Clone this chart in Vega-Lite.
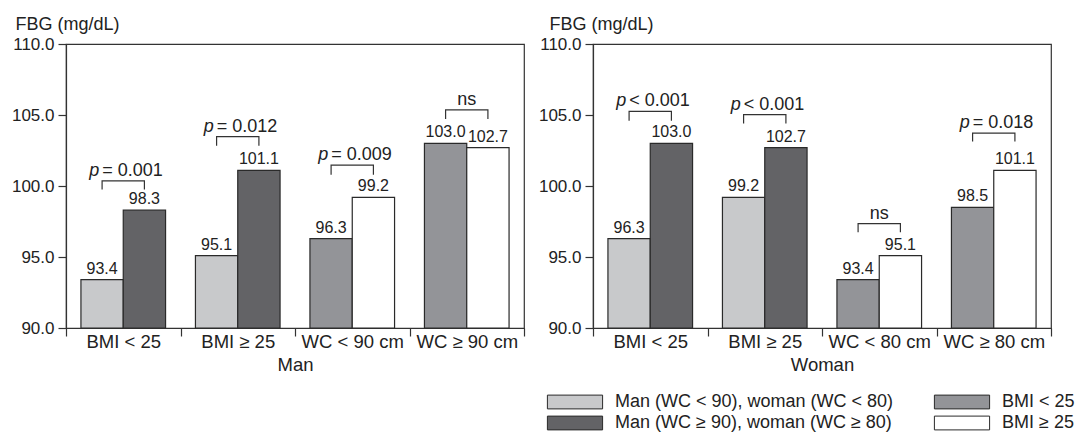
{
  "$schema": "https://vega.github.io/schema/vega-lite/v6.json",
  "padding": {"left": 10, "top": 14, "right": 5, "bottom": 0},
  "config": {
    "font": "Liberation Sans",
    "view": {"stroke": "#333", "strokeWidth": 1.2},
    "axis": {"domainColor": "#333", "domainWidth": 1.2, "tickColor": "#333", "tickWidth": 1.2, "labelColor": "#222", "titleColor": "#222", "labelFontSize": 17, "titleFontSize": 18.5, "titleFontWeight": "normal", "grid": false}
  },
  "datasets": {
    "manBars": [
      {"group": "BMI < 25", "pos": "a", "cat": "Man (WC < 90), woman (WC < 80)", "value": 93.4},
      {"group": "BMI < 25", "pos": "b", "cat": "Man (WC ≥ 90), woman (WC ≥ 80)", "value": 98.3},
      {"group": "BMI ≥ 25", "pos": "a", "cat": "Man (WC < 90), woman (WC < 80)", "value": 95.1},
      {"group": "BMI ≥ 25", "pos": "b", "cat": "Man (WC ≥ 90), woman (WC ≥ 80)", "value": 101.1},
      {"group": "WC < 90 cm", "pos": "a", "cat": "BMI < 25", "value": 96.3},
      {"group": "WC < 90 cm", "pos": "b", "cat": "BMI ≥ 25", "value": 99.2},
      {"group": "WC ≥ 90 cm", "pos": "a", "cat": "BMI < 25", "value": 103.0},
      {"group": "WC ≥ 90 cm", "pos": "b", "cat": "BMI ≥ 25", "value": 102.7}
    ],
    "womanBars": [
      {"group": "BMI < 25", "pos": "a", "cat": "Man (WC < 90), woman (WC < 80)", "value": 96.3},
      {"group": "BMI < 25", "pos": "b", "cat": "Man (WC ≥ 90), woman (WC ≥ 80)", "value": 103.0},
      {"group": "BMI ≥ 25", "pos": "a", "cat": "Man (WC < 90), woman (WC < 80)", "value": 99.2},
      {"group": "BMI ≥ 25", "pos": "b", "cat": "Man (WC ≥ 90), woman (WC ≥ 80)", "value": 102.7},
      {"group": "WC < 80 cm", "pos": "a", "cat": "BMI < 25", "value": 93.4},
      {"group": "WC < 80 cm", "pos": "b", "cat": "BMI ≥ 25", "value": 95.1},
      {"group": "WC ≥ 80 cm", "pos": "a", "cat": "BMI < 25", "value": 98.5},
      {"group": "WC ≥ 80 cm", "pos": "b", "cat": "BMI ≥ 25", "value": 101.1}
    ],
    "manBrackets": [
      {"group": "BMI < 25", "pos": "a", "y": 99.76, "ord": 1},
      {"group": "BMI < 25", "pos": "a", "y": 100.36, "ord": 2},
      {"group": "BMI < 25", "pos": "b", "y": 100.36, "ord": 3},
      {"group": "BMI < 25", "pos": "b", "y": 99.76, "ord": 4},
      {"group": "BMI ≥ 25", "pos": "a", "y": 102.84, "ord": 1},
      {"group": "BMI ≥ 25", "pos": "a", "y": 103.48, "ord": 2},
      {"group": "BMI ≥ 25", "pos": "b", "y": 103.48, "ord": 3},
      {"group": "BMI ≥ 25", "pos": "b", "y": 102.84, "ord": 4},
      {"group": "WC < 90 cm", "pos": "a", "y": 100.8, "ord": 1},
      {"group": "WC < 90 cm", "pos": "a", "y": 101.47, "ord": 2},
      {"group": "WC < 90 cm", "pos": "b", "y": 101.47, "ord": 3},
      {"group": "WC < 90 cm", "pos": "b", "y": 100.8, "ord": 4},
      {"group": "WC ≥ 90 cm", "pos": "a", "y": 104.72, "ord": 1},
      {"group": "WC ≥ 90 cm", "pos": "a", "y": 105.36, "ord": 2},
      {"group": "WC ≥ 90 cm", "pos": "b", "y": 105.36, "ord": 3},
      {"group": "WC ≥ 90 cm", "pos": "b", "y": 104.72, "ord": 4}
    ],
    "womanBrackets": [
      {"group": "BMI < 25", "pos": "a", "y": 104.6, "ord": 1},
      {"group": "BMI < 25", "pos": "a", "y": 105.26, "ord": 2},
      {"group": "BMI < 25", "pos": "b", "y": 105.26, "ord": 3},
      {"group": "BMI < 25", "pos": "b", "y": 104.6, "ord": 4},
      {"group": "BMI ≥ 25", "pos": "a", "y": 104.4, "ord": 1},
      {"group": "BMI ≥ 25", "pos": "a", "y": 105.02, "ord": 2},
      {"group": "BMI ≥ 25", "pos": "b", "y": 105.02, "ord": 3},
      {"group": "BMI ≥ 25", "pos": "b", "y": 104.4, "ord": 4},
      {"group": "WC < 80 cm", "pos": "a", "y": 96.74, "ord": 1},
      {"group": "WC < 80 cm", "pos": "a", "y": 97.35, "ord": 2},
      {"group": "WC < 80 cm", "pos": "b", "y": 97.35, "ord": 3},
      {"group": "WC < 80 cm", "pos": "b", "y": 96.74, "ord": 4},
      {"group": "WC ≥ 80 cm", "pos": "a", "y": 103.13, "ord": 1},
      {"group": "WC ≥ 80 cm", "pos": "a", "y": 103.72, "ord": 2},
      {"group": "WC ≥ 80 cm", "pos": "b", "y": 103.72, "ord": 3},
      {"group": "WC ≥ 80 cm", "pos": "b", "y": 103.13, "ord": 4}
    ],
    "manP": [
      {"group": "BMI < 25", "p": "p", "rest": "= 0.001", "y": 100.71},
      {"group": "BMI ≥ 25", "p": "p", "rest": "= 0.012", "y": 103.83},
      {"group": "WC < 90 cm", "p": "p", "rest": "= 0.009", "y": 101.82},
      {"group": "WC ≥ 90 cm", "p": "", "rest": "ns", "y": 105.71}
    ],
    "womanP": [
      {"group": "BMI < 25", "p": "p", "rest": "< 0.001", "y": 105.61},
      {"group": "BMI ≥ 25", "p": "p", "rest": "< 0.001", "y": 105.37},
      {"group": "WC < 80 cm", "p": "", "rest": "ns", "y": 97.7},
      {"group": "WC ≥ 80 cm", "p": "p", "rest": "= 0.018", "y": 104.07}
    ]
  },
  "hconcat": [
    {
      "width": 458,
      "height": 284,
      "encoding": {
        "x": {"field": "group", "type": "nominal", "sort": ["BMI < 25", "BMI ≥ 25", "WC < 90 cm", "WC ≥ 90 cm"], "scale": {"paddingInner": 0, "paddingOuter": 0}, "axis": {"title": "Man", "labelAngle": 0, "tickBand": "extent", "tickSize": 8, "labelFontSize": 18.5, "labelPadding": -4, "titlePadding": 5}},
        "y": {"type": "quantitative", "scale": {"domain": [90, 110], "zero": false, "nice": false}, "axis": {"title": "FBG (mg/dL)", "titleFontSize": 18, "values": [90, 95, 100, 105, 110], "format": ".1f", "tickSize": 8, "labelPadding": 4, "titleAngle": 0, "titleAlign": "left", "titleBaseline": "alphabetic", "titleX": -51, "titleY": -15}}
      },
      "layer": [
        {
          "data": {"name": "manBars"},
          "mark": {"type": "bar", "stroke": "#2a2a2a", "strokeWidth": 1.2, "opacity": 1},
          "encoding": {
            "xOffset": {"field": "pos", "type": "nominal", "scale": {"paddingInner": 0, "paddingOuter": 0.353}},
            "y": {"field": "value", "type": "quantitative"},
            "y2": {"datum": 90},
            "color": {"field": "cat", "type": "nominal", "scale": {"domain": ["Man (WC < 90), woman (WC < 80)", "BMI < 25", "Man (WC ≥ 90), woman (WC ≥ 80)", "BMI ≥ 25"], "range": ["#c8c9cb", "#939498", "#636366", "#ffffff"]},
              "legend": {"orient": "none", "legendX": 497, "legendY": 346, "columns": 2, "direction": "horizontal", "title": null, "symbolType": "M-2.4,-0.6H2.4V0.6H-2.4Z", "symbolSize": 529, "symbolStrokeColor": "#333", "symbolStrokeWidth": 1, "symbolOpacity": 1, "labelFontSize": 18, "labelColor": "#222", "labelOffset": 28, "columnPadding": 38, "rowPadding": 0, "labelLimit": 400}}
          }
        },
        {
          "data": {"name": "manBars"},
          "mark": {"type": "text", "fontSize": 16, "baseline": "alphabetic", "dy": -6, "color": "#222"},
          "encoding": {
            "xOffset": {"field": "pos", "type": "nominal"},
            "y": {"field": "value", "type": "quantitative"},
            "text": {"field": "value", "type": "quantitative", "format": ".1f"}
          }
        },
        {
          "data": {"name": "manBrackets"},
          "mark": {"type": "line", "color": "#333", "strokeWidth": 1.2},
          "encoding": {
            "xOffset": {"field": "pos", "type": "nominal"},
            "y": {"field": "y", "type": "quantitative"},
            "detail": {"field": "group"},
            "order": {"field": "ord", "type": "quantitative"}
          }
        },
        {
          "data": {"name": "manP"},
          "transform": [{"filter": "datum.p == 'p'"}],
          "mark": {"type": "text", "fontSize": 18, "fontStyle": "italic", "align": "right", "baseline": "alphabetic", "dx": -24, "color": "#222"},
          "encoding": {"y": {"field": "y", "type": "quantitative"}, "text": {"field": "p"}}
        },
        {
          "data": {"name": "manP"},
          "transform": [{"filter": "datum.p == 'p'"}],
          "mark": {"type": "text", "fontSize": 18, "align": "left", "baseline": "alphabetic", "dx": -21, "color": "#222"},
          "encoding": {"y": {"field": "y", "type": "quantitative"}, "text": {"field": "rest"}}
        },
        {
          "data": {"name": "manP"},
          "transform": [{"filter": "datum.p != 'p'"}],
          "mark": {"type": "text", "fontSize": 18, "align": "center", "baseline": "alphabetic", "color": "#222"},
          "encoding": {"y": {"field": "y", "type": "quantitative"}, "text": {"field": "rest"}}
        }
      ]
    },
    {
      "width": 458,
      "height": 284,
      "encoding": {
        "x": {"field": "group", "type": "nominal", "sort": ["BMI < 25", "BMI ≥ 25", "WC < 80 cm", "WC ≥ 80 cm"], "scale": {"paddingInner": 0, "paddingOuter": 0}, "axis": {"title": "Woman", "labelAngle": 0, "tickBand": "extent", "tickSize": 8, "labelFontSize": 18.5, "labelPadding": -4, "titlePadding": 5}},
        "y": {"type": "quantitative", "scale": {"domain": [90, 110], "zero": false, "nice": false}, "axis": {"title": "FBG (mg/dL)", "titleFontSize": 18, "values": [90, 95, 100, 105, 110], "format": ".1f", "tickSize": 8, "labelPadding": 4, "titleAngle": 0, "titleAlign": "left", "titleBaseline": "alphabetic", "titleX": -44, "titleY": -15}}
      },
      "layer": [
        {
          "data": {"name": "womanBars"},
          "mark": {"type": "bar", "stroke": "#2a2a2a", "strokeWidth": 1.2, "opacity": 1},
          "encoding": {
            "xOffset": {"field": "pos", "type": "nominal", "scale": {"paddingInner": 0, "paddingOuter": 0.353}},
            "y": {"field": "value", "type": "quantitative"},
            "y2": {"datum": 90},
            "color": {"field": "cat", "type": "nominal"}
          }
        },
        {
          "data": {"name": "womanBars"},
          "mark": {"type": "text", "fontSize": 16, "baseline": "alphabetic", "dy": -6, "color": "#222"},
          "encoding": {
            "xOffset": {"field": "pos", "type": "nominal"},
            "y": {"field": "value", "type": "quantitative"},
            "text": {"field": "value", "type": "quantitative", "format": ".1f"}
          }
        },
        {
          "data": {"name": "womanBrackets"},
          "mark": {"type": "line", "color": "#333", "strokeWidth": 1.2},
          "encoding": {
            "xOffset": {"field": "pos", "type": "nominal"},
            "y": {"field": "y", "type": "quantitative"},
            "detail": {"field": "group"},
            "order": {"field": "ord", "type": "quantitative"}
          }
        },
        {
          "data": {"name": "womanP"},
          "transform": [{"filter": "datum.p == 'p'"}],
          "mark": {"type": "text", "fontSize": 18, "fontStyle": "italic", "align": "right", "baseline": "alphabetic", "dx": -24, "color": "#222"},
          "encoding": {"y": {"field": "y", "type": "quantitative"}, "text": {"field": "p"}}
        },
        {
          "data": {"name": "womanP"},
          "transform": [{"filter": "datum.p == 'p'"}],
          "mark": {"type": "text", "fontSize": 18, "align": "left", "baseline": "alphabetic", "dx": -21, "color": "#222"},
          "encoding": {"y": {"field": "y", "type": "quantitative"}, "text": {"field": "rest"}}
        },
        {
          "data": {"name": "womanP"},
          "transform": [{"filter": "datum.p != 'p'"}],
          "mark": {"type": "text", "fontSize": 18, "align": "center", "baseline": "alphabetic", "color": "#222"},
          "encoding": {"y": {"field": "y", "type": "quantitative"}, "text": {"field": "rest"}}
        }
      ]
    }
  ],
  "spacing": 11
}
